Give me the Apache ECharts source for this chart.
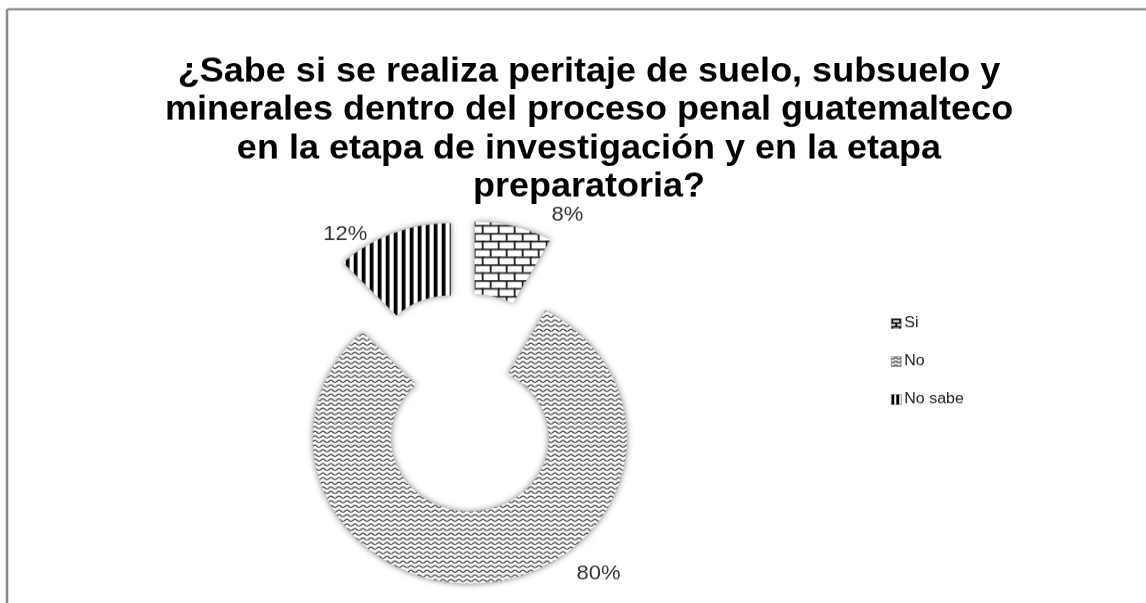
<!DOCTYPE html>
<html>
<head>
<meta charset="utf-8">
<script src="https://cdn.jsdelivr.net/npm/echarts@6/dist/echarts.min.js"></script>
<style>
  html, body { margin: 0; padding: 0; background: #fff; overflow: hidden; width: 1146px; height: 603px; }
  /* the reference chart is slightly flattened vertically */
  #chart { width: 1146px; height: 651px; transform: scaleY(0.927); transform-origin: 0 0; }
</style>
</head>
<body>
<div id="chart"></div>
<script>
// ---- data ----
const categories = ['Si', 'No', 'No sabe'];
const values = [8, 80, 12];
const titleLines = [
  '¿Sabe si se realiza peritaje de suelo, subsuelo y',
  'minerales dentro del proceso penal guatemalteco',
  'en la etapa de investigación y en la etapa',
  'preparatoria?'
];
// label nudges (dx, dy) to match the reference's hand-placed data labels
const labelNudges = [[-1, 2], [50, -24], [15, 15]];

// ---- pattern fills ----
function makeCanvas(w, h) {
  const c = document.createElement('canvas');
  c.width = w; c.height = h;
  const ctx = c.getContext('2d');
  ctx.fillStyle = '#ffffff';
  ctx.fillRect(0, 0, w, h);
  return [c, ctx];
}
function brickPattern(w, h, lw) {
  const [c, ctx] = makeCanvas(w, h);
  ctx.fillStyle = '#111';
  ctx.fillRect(0, 0, w, lw);
  ctx.fillRect(0, h / 2, w, lw);
  ctx.fillRect(0, 0, lw, h / 2);
  ctx.fillRect(w / 2, h / 2, lw, h / 2);
  return c;
}
function wavePattern(w, h, amp, lw) {
  const [c, ctx] = makeCanvas(w, h);
  ctx.strokeStyle = '#111';
  ctx.lineWidth = lw;
  ctx.beginPath();
  for (let x = -1; x <= w + 1; x += 0.5) {
    const y = h / 2 + amp * Math.sin((x / w) * Math.PI * 2);
    if (x === -1) ctx.moveTo(x, y); else ctx.lineTo(x, y);
  }
  ctx.stroke();
  return c;
}
function stripePattern(w, black) {
  const [c, ctx] = makeCanvas(w, 8);
  ctx.fillStyle = '#000';
  ctx.fillRect(0, 0, black, 8);
  return c;
}
const fills = [
  { image: brickPattern(16, 17, 1.7), repeat: 'repeat' },
  { image: wavePattern(8, 5, 1.2, 1.05), repeat: 'repeat' },
  { image: stripePattern(8, 3.8), repeat: 'repeat' }
];
const legendFills = [
  { image: brickPattern(8, 8, 2), repeat: 'repeat' },
  { image: wavePattern(6, 4, 1, 1.1), repeat: 'repeat' },
  { image: stripePattern(5, 3), repeat: 'repeat' }
];

const chart = echarts.init(document.getElementById('chart'), null, { renderer: 'canvas' });

const option = {
  backgroundColor: '#ffffff',
  animation: false,
  title: {
    text: titleLines.join('\n'),
    left: 589,
    top: 57,
    padding: 0,
    textAlign: 'center',
    textStyle: {
      fontFamily: 'Liberation Sans, Arial, sans-serif',
      fontSize: 36,
      fontWeight: 'bold',
      color: '#000',
      lineHeight: 41.5
    }
  },
  legend: {
    orient: 'vertical',
    left: 886,
    top: 336,
    itemWidth: 10,
    itemHeight: 11,
    itemGap: 25,
    icon: 'rect',
    selectedMode: false,
    textStyle: {
      fontFamily: 'Liberation Sans, Arial, sans-serif',
      fontSize: 16,
      lineHeight: 16,
      color: '#222',
      padding: [0, 0, 0, -2]
    },
    data: categories.map((name, i) => ({
      name: name,
      itemStyle: { color: legendFills[i], borderColor: '#777', borderWidth: 0.5 }
    }))
  },
  graphic: [
    { type: 'line', shape: { x1: 7, y1: 10, x2: 1146, y2: 10 }, style: { stroke: '#8a8a8a', lineWidth: 2.6 } },
    { type: 'line', shape: { x1: 7, y1: 10, x2: 7, y2: 651 }, style: { stroke: '#8a8a8a', lineWidth: 2.5 } }
  ],
  series: [{
    type: 'pie',
    center: [465, 434],
    radius: [79, 157],
    startAngle: 90,
    clockwise: true,
    selectedMode: 'multiple',
    selectedOffset: 39,
    avoidLabelOverlap: false,
    emphasis: { disabled: true },
    itemStyle: {
      shadowBlur: 6,
      shadowColor: 'rgba(0,0,0,0.5)',
      borderWidth: 0
    },
    label: {
      show: true,
      position: 'outside',
      formatter: '{c}%',
      fontFamily: 'Liberation Sans, Arial, sans-serif',
      fontSize: 22,
      color: '#333'
    },
    labelLine: { show: false },
    labelLayout: function (params) {
      const n = labelNudges[params.dataIndex];
      return { dx: n[0], dy: n[1] };
    },
    data: categories.map((name, i) => ({
      name: name,
      value: values[i],
      selected: true,
      itemStyle: { color: fills[i] }
    }))
  }]
};
chart.setOption(option);
</script>
</body>
</html>
